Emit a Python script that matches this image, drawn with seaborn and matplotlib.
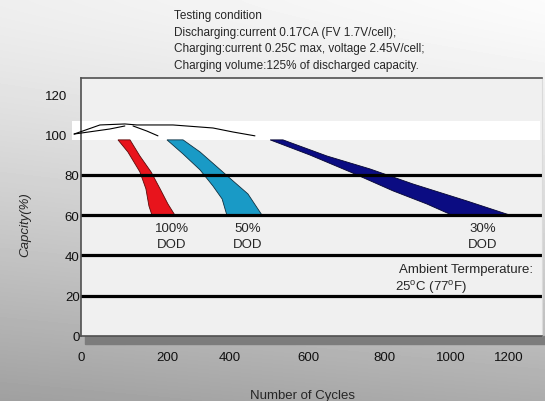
import numpy as np
import pandas as pd
import matplotlib
matplotlib.use("Agg")
import matplotlib.pyplot as plt
import seaborn as sns
from matplotlib.patches import Rectangle

# ---- data ----
x_ticks = [0, 200, 400, 600, 800, 1000, 1200]
y_ticks = [0, 20, 40, 60, 80, 100, 120]
grid_levels = [20, 40, 60, 80]

# edges of the three fade bands: (cycles, capacity %)
dod100_left_x = [86, 109, 137, 151, 158, 165]
dod100_left_y = [97.3, 91.3, 81.4, 73.0, 64.5, 60.0]
dod100_right_x = [114, 137, 163, 184, 203, 225]
dod100_right_y = [97.3, 89.3, 81.4, 73.0, 65.5, 60.0]

dod50_left_x = [200, 251, 305, 346, 375, 390]
dod50_left_y = [97.3, 90.3, 82.4, 74.4, 68.0, 60.0]
dod50_right_x = [251, 305, 359, 408, 446, 482]
dod50_right_y = [97.3, 91.3, 83.9, 76.9, 70.5, 60.0]

dod30_left_x = [503, 605, 711, 827, 928, 1003]
dod30_left_y = [97.3, 89.8, 81.4, 72.0, 65.5, 60.0]
dod30_right_x = [536, 650, 763, 887, 1055, 1203]
dod30_right_y = [97.3, 89.3, 82.9, 75.4, 67.0, 60.0]

# thin curves in the white band around 100 %
upper_x = [-16, 44, 102, 130, 219, 346, 408, 464]
upper_y = [100.2, 104.7, 105.2, 104.7, 104.7, 103.2, 101.2, 99.3]
lower_x = [-16, 67, 102]
lower_y = [100.2, 102.7, 104.2]
branch_x = [121, 153, 179]
branch_y = [104.2, 101.7, 99.3]
band_x = [-21, 1307]
band_lo, band_hi = 97.3, 106.7

dod_labels = ["100%\nDOD", "50%\nDOD", "30%\nDOD"]
dod_label_x = [216, 446, 1110]

test_lines = [
    "Testing condition",
    "Discharging:current 0.17CA (FV 1.7V/cell);",
    "Charging:current 0.25C max, voltage 2.45V/cell;",
    "Charging volume:125% of discharged capacity.",
]

# the printed cycle axis is not evenly spaced
scale_cycles = [-400, 0, 200, 400, 600, 800, 1000, 1200, 1600]
scale_pos = [-91, 81, 167, 230, 308, 384, 451, 509, 625]


def fwd(v):
    return np.interp(np.asarray(v, dtype=float), scale_cycles, scale_pos)


def inv(v):
    return np.interp(np.asarray(v, dtype=float), scale_pos, scale_cycles)


def fade_band(ax, lx, ly, rx, ry, face, edge):
    xs = list(lx) + list(rx)[::-1]
    ys = list(ly) + list(ry)[::-1]
    ax.fill(xs, ys, facecolor=face, edgecolor=edge, lw=0.6, zorder=1.5)


sns.set_theme(style="white")
plt.rcParams["font.family"] = ["Liberation Sans", "DejaVu Sans"]
plt.rcParams["mathtext.fontset"] = "custom"
plt.rcParams["mathtext.rm"] = "Liberation Sans"

fig = plt.figure(figsize=(5.45, 4.02), dpi=100)

# grey gradient background
bg = fig.add_axes([0, 0, 1, 1], zorder=-10)
H, W = 402, 545
yy, xx = np.mgrid[0:H, 0:W]
grad = 0.985 - 0.31 * (yy / H) ** 1.3 - 0.05 * (1 - xx / W)
bg.imshow(grad, cmap="gray", vmin=0, vmax=1, aspect="auto", interpolation="bilinear")
bg.axis("off")

# shadow under the plot frame
fig.patches.append(Rectangle((85 / W, (H - 345) / H), (W - 85) / W, 8 / H,
                             transform=fig.transFigure, color="#7c7c7c", zorder=-5))

ax = fig.add_axes([81 / W, (H - 337) / H, 461 / W, 258 / H])
ax.set_facecolor("#f0f0f0")
ax.set_xscale("function", functions=(fwd, inv))
ax.set_xlim(0, 1314)
ax.set_ylim(0, 128)

for lvl in grid_levels:
    ax.axhline(lvl, color="black", lw=2.3, zorder=2)

ax.fill_between(band_x, band_lo, band_hi, color="white", zorder=1, clip_on=False, lw=0)

fade_band(ax, dod100_left_x, dod100_left_y, dod100_right_x, dod100_right_y, "#e8141c", "#5a0a0a")
fade_band(ax, dod50_left_x, dod50_left_y, dod50_right_x, dod50_right_y, "#199ac6", "#103040")
fade_band(ax, dod30_left_x, dod30_left_y, dod30_right_x, dod30_right_y, "#0b0c82", "#050530")

curves = pd.concat([
    pd.DataFrame({"cycles": upper_x, "cap": upper_y, "part": "upper"}),
    pd.DataFrame({"cycles": lower_x, "cap": lower_y, "part": "lower"}),
    pd.DataFrame({"cycles": branch_x, "cap": branch_y, "part": "branch"}),
])
sns.lineplot(data=curves, x="cycles", y="cap", units="part", estimator=None, sort=False,
             color="black", lw=0.8, ax=ax, legend=False, zorder=3)
for ln in ax.lines[-3:]:
    ln.set_clip_on(False)

for lab, lx in zip(dod_labels, dod_label_x):
    ax.text(lx, 49.6, lab, ha="center", va="center", fontsize=9.5, linespacing=1.45, zorder=4)

ax.text(845, 33.3, "Ambient Termperature:", ha="left", va="center", fontsize=9.5)
ax.text(833, 24.8, r"25$^\mathregular{o}$C (77$^\mathregular{o}$F)", ha="left", va="center", fontsize=9.5)

ax.set_xticks(x_ticks)
ax.set_xticklabels([str(t) for t in x_ticks])
ax.set_yticks(y_ticks)
ax.set_yticklabels([str(t) for t in y_ticks])
ax.tick_params(axis="x", length=0, pad=11, labelsize=9.5, colors="#111111")
ax.tick_params(axis="y", length=0, pad=1, labelsize=9.5, colors="#111111")
ax.minorticks_off()
# the two top labels sit further from the axis in the original
for tk in ax.yaxis.get_major_ticks()[5:]:
    tk.set_pad(10)

ax.set_xlabel("Number of Cycles", fontsize=9.5)
ax.xaxis.set_label_coords(0.48, -0.205)
ax.set_ylabel("Capcity(%)", fontsize=9.5, style="italic")
ax.yaxis.set_label_coords(-0.107, 0.434)

for side in ["left", "bottom", "top"]:
    ax.spines[side].set_color("#505050")
    ax.spines[side].set_linewidth(1.2)
ax.spines["right"].set_color("#dadada")
ax.spines["right"].set_linewidth(0.8)

for i, line in enumerate(test_lines):
    fig.text(174 / W, 1 - (16 + 16.7 * i) / H, line, ha="left", va="center", fontsize=8.5)

fig.savefig("out.png", dpi=100)
